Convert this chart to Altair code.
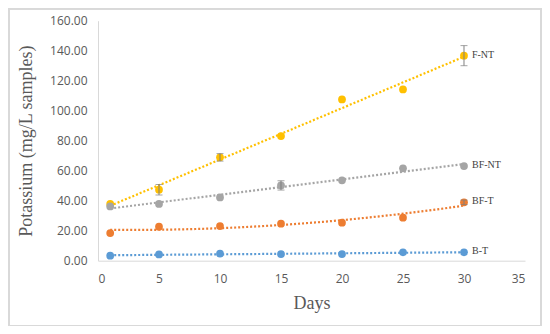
import altair as alt
import pandas as pd

days = [1, 5, 10, 15, 20, 25, 30]
series_names = ["F-NT", "BF-NT", "BF-T", "B-T"]
colors = ["#FFC000", "#A5A5A5", "#ED7D31", "#5B9BD5"]

fnt = [37.8, 47.3, 68.9, 83.1, 107.5, 114.2, 136.7]
bfnt = [36.2, 37.8, 42.2, 50.2, 53.6, 61.6, 63.1]
bft = [18.4, 22.7, 23.1, 24.7, 25.3, 28.7, 38.9]
bt = [3.3, 4.2, 4.7, 4.4, 4.4, 5.6, 5.6]

fnt_err = [0, 3.5, 2.5, 0, 0, 0, 6.7]
bfnt_err = [0, 0, 0, 3.1, 0, 0, 0]
bft_err = [0, 0, 0, 0, 0, 0, 1.5]
bt_err = [0, 0, 0, 0, 0, 0, 0]

y_ticks = [0, 20, 40, 60, 80, 100, 120, 140, 160]
x_ticks = [0, 5, 10, 15, 20, 25, 30, 35]

rows = []
for name, vals, errs in zip(series_names, [fnt, bfnt, bft, bt],
                            [fnt_err, bfnt_err, bft_err, bt_err]):
    for d, v, e in zip(days, vals, errs):
        rows.append({"series": name, "day": d, "value": v, "err": e,
                     "lo": v - e, "hi": v + e})
df = pd.DataFrame(rows)

color = alt.Color("series:N", scale=alt.Scale(domain=series_names, range=colors),
                  legend=None)

xaxis = alt.Axis(values=x_ticks, format="d", title="Days",
                 grid=False, ticks=False, labelPadding=13,
                 domainColor="#d9d9d9", titlePadding=10, labelOverlap=False)
yaxis = alt.Axis(values=y_ticks, format=".2f",
                 title="Potassium (mg/L samples)", grid=False, ticks=False,
                 labelPadding=11, domainColor="#d9d9d9", titlePadding=14,
                 labelOverlap=False)
xscale = alt.Scale(domain=[0, 35], nice=False)
yscale = alt.Scale(domain=[0, 160], nice=False)

xenc = alt.X("day:Q", scale=xscale, axis=xaxis)
yenc = alt.Y("value:Q", scale=yscale, axis=yaxis)

base = alt.Chart(df)

lin = base.transform_filter(alt.datum.series != "BF-T").transform_regression(
    "day", "value", groupby=["series"], method="linear", extent=[1, 30]
).mark_line(strokeDash=[2, 2], strokeWidth=2.2).encode(x=xenc, y=yenc, color=color)

poly = base.transform_filter(alt.datum.series == "BF-T").transform_regression(
    "day", "value", groupby=["series"], method="poly", order=2, extent=[1, 30]
).mark_line(strokeDash=[2, 2], strokeWidth=2.2).encode(x=xenc, y=yenc, color=color)

pts = base.mark_circle(size=60, opacity=1).encode(x=xenc, y=yenc, color=color)

err = base.transform_filter(alt.datum.err > 0).mark_errorbar(
    ticks={"size": 7}, color="#7f7f7f", thickness=1).encode(
    x=xenc, y=alt.Y("lo:Q", scale=yscale, axis=yaxis), y2="hi:Q")

last = df[df["day"] == 30]
labels = alt.Chart(last).mark_text(align="left", baseline="middle", dx=8, dy=-1,
                                    font="Liberation Serif", fontSize=10,
                                    color="#404040").encode(
    x=xenc, y=yenc, text="series:N")

border = alt.Chart(df).mark_rect(fill=None, stroke="#d9d9d9", strokeWidth=1.5).encode(
    x=alt.value(-89.5), x2=alt.value(443.5), y=alt.value(-12), y2=alt.value(305))

chart = alt.layer(border, lin, poly, pts, err, labels).properties(
    width=427, height=240,
    padding={"left": 90, "top": 12.7, "right": 17, "bottom": 65},
    autosize=alt.AutoSizeParams(type="none"),
).configure_view(stroke=None).configure_axis(
    labelFont="Open Sans", labelFontSize=12, labelColor="#595959",
    titleFont="Liberation Serif", titleFontSize=18, titleColor="#595959",
    titleFontWeight="normal", labelOverlap=False,
)

chart.save("out.html", embed_options={"renderer": "svg", "actions": False})
